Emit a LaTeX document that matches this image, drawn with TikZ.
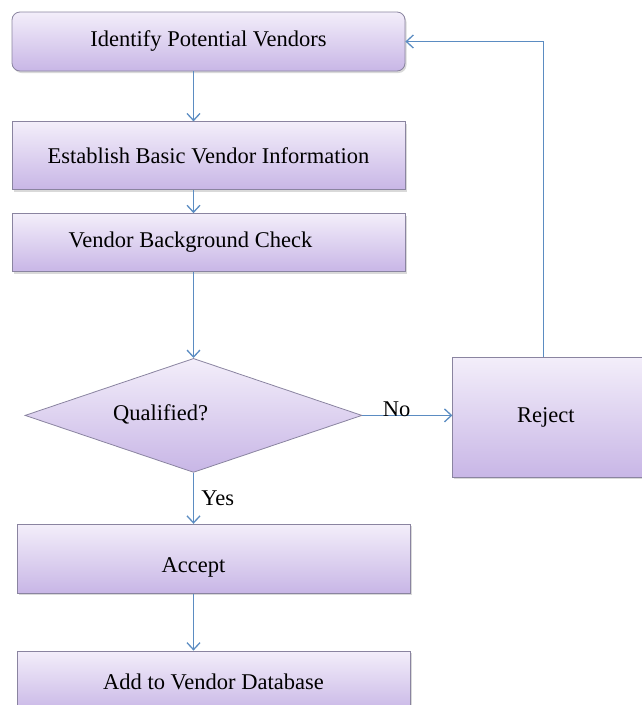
\documentclass[tikz,border=0pt]{standalone}
\usepackage{fontspec}
\setmainfont{Liberation Serif}
\usepackage{xcolor}
\usepackage{tikz}
\usetikzlibrary{shapes.geometric, arrows.meta, positioning, shadows}
\definecolor{boxtop}{HTML}{F3EEFA}
\definecolor{boxbot}{HTML}{C8B6E6}
\definecolor{boxline}{HTML}{8A84A0}
\definecolor{flowblue}{HTML}{5B8CC2}
\tikzset{
  box/.style={rectangle, draw=boxline, thick, top color=boxtop, bottom color=boxbot, minimum width=393pt, align=center, drop shadow={shadow xshift=1.5pt, shadow yshift=-2pt, opacity=0.3}},
  roundbox/.style={box, rounded corners=8pt},
  decision/.style={diamond, aspect=3, draw=boxline, thick, top color=boxtop, bottom color=boxbot, minimum width=337pt, minimum height=114pt, inner sep=1pt},
  arrow/.style={-{Straight Barb[length=7pt, width=13pt]}, draw=flowblue, line width=1.3pt},
}

\begin{document}
\begin{tikzpicture}[x=1pt, y=-1pt, font=\fontsize{22.5}{26}\selectfont]
\useasboundingbox (0,0) rectangle (642,705);
\clip (0,0) rectangle (642,705);
\node[roundbox, minimum height=59pt] (ident) at (208.5,41.5) {Identify Potential Vendors};
\node[box, minimum height=68pt, below=50pt of ident] (basic) {Establish Basic Vendor Information};
\node[box, minimum height=58pt, below=23pt of basic] (check) {Vendor Background Check\hspace*{36pt}};
\node[decision, below=86pt of check, xshift=-15pt] (qual) {\raisebox{5pt}{Qualified?}\hspace*{66pt}};
\node[box, minimum width=210pt, minimum height=120pt, right=90pt of qual, yshift=-2pt] (reject) {Reject\hspace*{24pt}};
\node[box, minimum height=69pt, below=51pt of qual, xshift=20pt] (accept) {\rule{0pt}{32pt}Accept\hspace*{40pt}};
\node[box, minimum height=62pt, below=57pt of accept] (add) {Add to Vendor Database};
\draw[arrow] (ident.south -| qual.north)--(basic.north -| qual.north);
\draw[arrow] (basic.south -| qual.north)--(check.north -| qual.north);
\draw[arrow] (check.south -| qual.north)--(qual.north);
\draw[arrow] (qual.east)-- node[pos=0.38, above=-5pt]{No}(qual.east -| reject.west);
\draw[arrow] ([xshift=-14pt]reject.north) |- (ident.east);
\draw[arrow] (qual.south)-- node[right=4pt]{Yes}(qual.south |- accept.north);
\draw[arrow] (accept.south -| qual.south)--(add.north -| qual.south);
\end{tikzpicture}
\end{document}
